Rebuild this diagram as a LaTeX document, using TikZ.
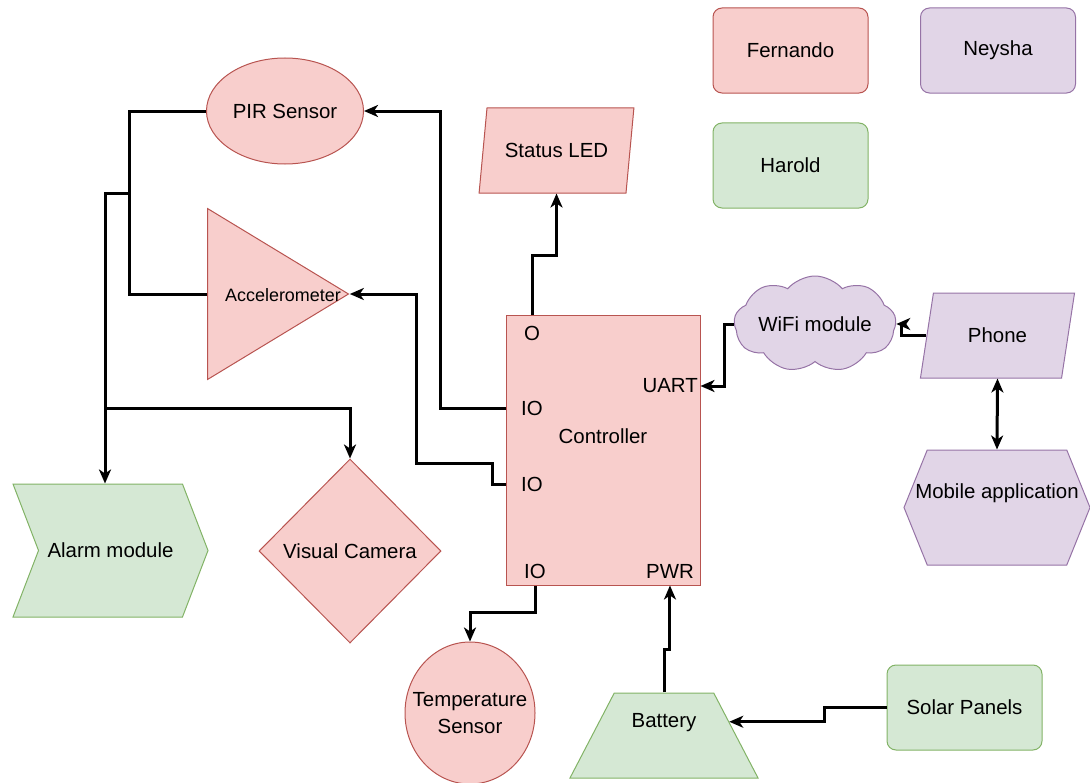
\documentclass[tikz,border=0pt]{standalone}
\usepackage{fontspec}
\setmainfont{Liberation Sans}
\usepackage{tikz}
\usetikzlibrary{positioning, shapes.geometric, shapes.symbols, arrows.meta, calc}

\definecolor{fernfill}{HTML}{F8CECC}
\definecolor{fernline}{HTML}{B85450}
\definecolor{neyfill}{HTML}{E1D5E7}
\definecolor{neyline}{HTML}{9673A6}
\definecolor{harfill}{HTML}{D5E8D4}
\definecolor{harline}{HTML}{82B366}

\begin{document}
\begin{tikzpicture}[
          x=1bp, y=-1bp,
          font=\fontsize{20.5}{27}\selectfont,
          >={Stealth[length=14bp,width=12bp,inset=4bp]},
          box/.style={draw,line width=1bp,inner sep=1bp,align=center},
          fern/.style={box,draw=fernline,fill=fernfill},
          ney/.style={box,draw=neyline,fill=neyfill},
          har/.style={box,draw=harline,fill=harfill},
          tag/.style={rounded corners=9bp,minimum width=155bp,minimum height=85bp},
          plgram/.style={trapezium,trapezium left angle=70,trapezium right angle=110,
            trapezium stretches,minimum width=155bp,minimum height=85bp},
          port/.style={inner sep=0pt},
          link/.style={line width=3bp},
          wire/.style={link,->}
        ]
        \useasboundingbox (0,0) rectangle (1090,783);
        % who does what
        \node[fern,tag] (fernando) at (790.5,50.5) {Fernando};
        \node[ney,tag] (neysha) at (998,50.5) {Neysha};
        \node[har,tag] (harold) at (790.5,165.5) {Harold};
        % sensors and outputs
        \node[fern,ellipse,minimum width=157bp,minimum height=106bp] (pir) at (285,111) {PIR Sensor};
        \node[fern,plgram] (led) at (556.5,150.5) {Status LED};
        \node[fern,isosceles triangle,isosceles triangle stretches,shape border rotate=0,
          minimum width=171bp,minimum height=141bp,anchor=lower side] (accel) at (207,294) {};
        \node[font=\fontsize{18}{22}\selectfont] (acctxt) at (283,295) {Accelerometer};
        \node[fern,diamond,minimum width=182bp,minimum height=184bp] (cam) at (350,551) {Visual Camera};
        \node[fern,ellipse,inner xsep=-12bp,minimum width=130bp,minimum height=142bp] (temp) at (470,713) {Temperature\\Sensor};
        \node[har,signal,signal from=west,signal to=east,signal pointer angle=138,
          minimum width=195bp,minimum height=133bp] (alarm) at (110.5,550.5) {Alarm module};
        % controller and its pins
        \node[fern,minimum width=194bp,minimum height=270bp,
          label={[yshift=14bp]center:Controller}] (ctl) at (603,450) {};
        \node[port] (o) at (532,333) {O};
        \node[port] (io1) at (532,408) {IO};
        \node[port] (io2) at (532,484) {IO};
        \node[port] (io3) at (535,571) {IO};
        \node[port,anchor=east] (uart) at (698,386) {UART};
        \node[port,anchor=east] (pwr) at (694,571) {PWR};
        % wireless side
        \node[ney,cloud,cloud puffs=9,cloud puff arc=100,cloud ignores aspect,
          minimum width=162bp,minimum height=96bp] (wifi) at (815,324) {WiFi module};
        \node[ney,plgram] (phone) at (997.5,335.5) {Phone};
        \node[ney,signal,signal to=west and east,signal pointer angle=136,
          minimum width=186bp,minimum height=115bp,
          label={[yshift=14bp]center:Mobile application}] (mobile) at (997,507.5) {};
        % power
        \node[har,trapezium,trapezium angle=66,trapezium stretches,minimum width=188bp,minimum height=85bp,
          label={[yshift=13bp]center:Battery}] (batt) at (664,735.5) {};
        \node[har,tag] (solar) at (964.5,707.5) {Solar Panels};

        \coordinate (tap) at (130,193);
        \coordinate (split) at (105,408);
        \draw[wire] (io1 -| ctl.west) -- ++(-65,0) |- (pir.east);
        \draw[wire] (io2 -| ctl.west) -- ++(-13,0) -- ++(0,-21) -- ++(-76,0) |- (accel.apex);
        \draw[link] (pir.west) -- ++(-77,0) |- (accel.lower side);
        \draw[wire] (tap) -| (split |- alarm.north);
        \draw[wire] (split) -| (cam.north);
        \draw[wire] (o |- ctl.north) -- ++(0,-59) -| (led.south);
        \draw[wire] (wifi.west) -- ++(-9,0) |- (uart.east -| ctl.east);
        \draw[wire] (phone.west) -- ++(-25,0) |- (wifi.east);
        \draw[link,<->] (phone.south) -- (mobile.north);
        \draw[wire] (io3 |- ctl.south) -- ++(0,27) -| (temp.north);
        \draw[wire] (batt.north) -- ++(0,-43) -| (pwr |- ctl.south);
        \draw[wire] (solar.west) -- ++(-62,0) |- ($(batt.top right corner)!0.34!(batt.bottom right corner)$);
      \end{tikzpicture}
\end{document}
